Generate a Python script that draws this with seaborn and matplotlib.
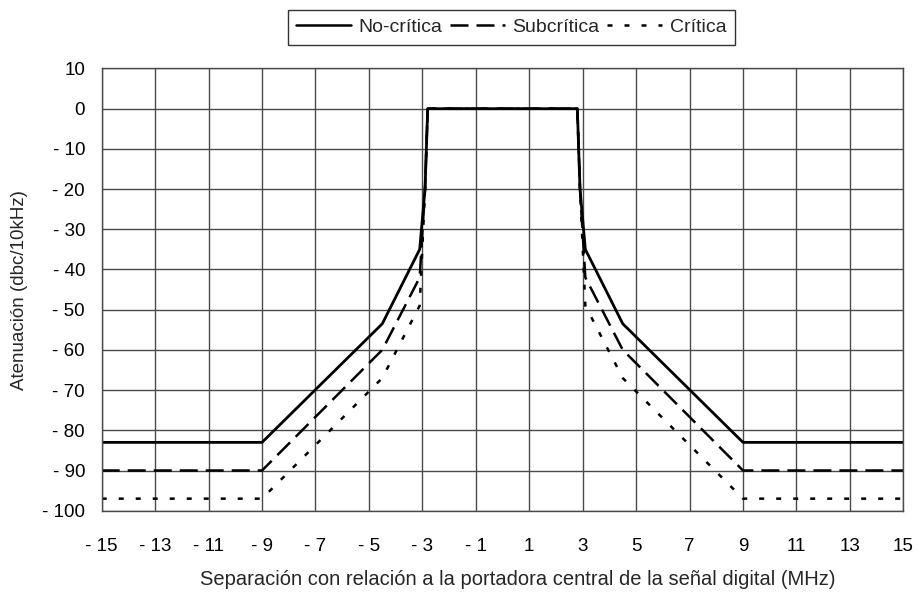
import pandas as pd
import seaborn as sns
import matplotlib.pyplot as plt
from matplotlib.lines import Line2D

# frequency offset (MHz) and attenuation masks (dBc/10kHz)
freq = [-15, -9, -4.5, -3.1, -2.9, -2.8, 2.8, 2.9, 3.1, 4.5, 9, 15]
no_critica = [-83, -83, -53.5, -35, -20, 0, 0, -20, -35, -53.5, -83, -83]
subcritica = [-90, -90, -60, -42, -20, 0, 0, -20, -42, -60, -90, -90]
critica = [-97, -97, -67, -49, -20, 0, 0, -20, -49, -67, -97, -97]

series_names = ["No-crítica", "Subcrítica", "Crítica"]

xticks = list(range(-15, 16, 2))
xticklabels = ["- 15", "- 13", "- 11", "- 9", "- 7", "- 5", "- 3", "- 1",
               "1", "3", "5", "7", "9", "11", "13", "15"]
yticks = list(range(10, -101, -10))
yticklabels = ["10", "0", "- 10", "- 20", "- 30", "- 40", "- 50",
               "- 60", "- 70", "- 80", "- 90", "- 100"]

sns.set_style("white")
plt.rcParams["font.family"] = ["Liberation Sans", "DejaVu Sans"]

df = pd.DataFrame({"freq": freq, "nc": no_critica, "sc": subcritica, "c": critica})

lw = 1.8
styles = {
    "No-crítica": "-",
    "Subcrítica": (0, (7.2, 3.2)),
    "Crítica": (0, (2.0, 4.8)),
}

fig = plt.figure(figsize=(9.18, 5.96), dpi=100)
ax = fig.add_axes([0.1108, 0.1431, 0.8732, 0.7420])

# draw critical first so the solid line sits on top
sns.lineplot(data=df, x="freq", y="c", color="black", lw=lw, linestyle=styles["Crítica"],
             estimator=None, sort=False, ax=ax)
sns.lineplot(data=df, x="freq", y="sc", color="black", lw=lw, linestyle=styles["Subcrítica"],
             estimator=None, sort=False, ax=ax)
sns.lineplot(data=df, x="freq", y="nc", color="black", lw=2.0, linestyle=styles["No-crítica"],
             estimator=None, sort=False, ax=ax)

ax.set_xlim(-15, 15)
ax.set_ylim(-100, 10)
ax.set_xticks(xticks)
ax.set_xticklabels(xticklabels)
ax.set_yticks(yticks)
ax.set_yticklabels(yticklabels)
ax.grid(True, color="#4a4a4a", lw=1.0)
for s in ax.spines.values():
    s.set_visible(True)
    s.set_color("#4a4a4a")
    s.set_linewidth(1.0)
ax.tick_params(axis="both", direction="out", length=6, width=1, color="#4a4a4a",
               labelsize=13.5, labelcolor="black")
ax.tick_params(axis="x", pad=14)
ax.tick_params(axis="y", pad=6)

ax.set_xlabel("Separación con relación a la portadora central de la señal digital (MHz)",
              fontsize=14.5)
ax.xaxis.set_label_coords(0.5 + 15 / 801.6, -0.135)
ax.set_ylabel("Atenuación (dbc/10kHz)", fontsize=13.5, labelpad=10)

handles = [Line2D([], [], color="black", lw=lw, linestyle=styles[n]) for n in series_names]
leg = fig.legend(handles, series_names, loc="upper center", bbox_to_anchor=(0.557, 0.99), ncol=3,
                 frameon=True, fancybox=False, edgecolor="black", fontsize=14,
                 handlelength=2.8, handletextpad=0.4, columnspacing=0.4, borderpad=0.45,
                 borderaxespad=0.2)
leg.get_frame().set_linewidth(1.0)

fig.savefig("out.png", dpi=100)
